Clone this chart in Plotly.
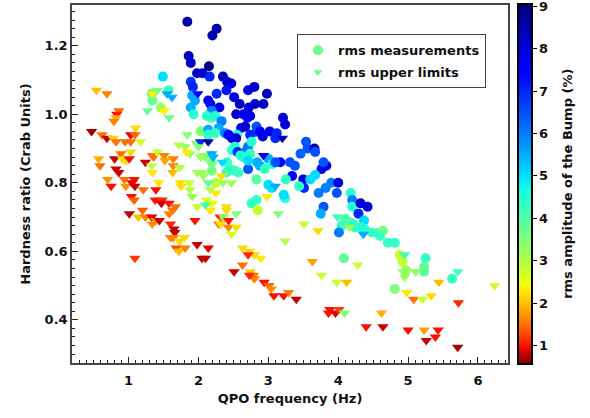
import numpy as np
import plotly.graph_objects as go

# ---------------- data ----------------
# rms measurements: QPO frequency (Hz), hardness ratio (Crab), rms amplitude of the bump (%)
rms_freq = [1.33, 1.34, 1.46, 1.84, 2.26, 2.20, 1.86, 1.89, 2.15, 1.98, 2.06, 2.16, 1.49, 2.35, 2.41, 2.47,
            1.89, 1.92, 1.57, 2.26, 2.40, 2.71, 2.80, 2.98, 1.91, 1.95, 2.14, 2.17, 2.51, 2.59, 2.72, 2.81,
            2.93, 1.89, 2.30, 1.93, 2.19, 2.54, 2.64, 2.74, 2.70, 3.21, 3.24, 2.12, 2.19, 2.24, 2.33, 2.67,
            2.61, 2.83, 2.83, 3.02, 2.03, 2.14, 2.29, 2.38, 2.55, 2.14, 2.24, 2.43, 2.48, 2.54, 2.74, 2.88,
            2.92, 3.12, 3.10, 2.52, 2.48, 2.56, 2.71, 2.69, 2.76, 2.60, 2.64, 2.74, 2.84, 2.88, 2.71, 2.83,
            2.45, 2.52, 2.57, 2.40, 2.19, 2.19, 2.19, 2.25, 3.54, 3.56, 3.66, 3.67, 3.46, 3.00, 3.06, 3.17,
            3.10, 3.31, 3.38, 3.83, 3.76, 3.79, 2.95, 3.34, 3.25, 3.50, 3.60, 3.67, 3.51, 3.44, 3.72, 3.82,
            3.90, 4.00, 3.98, 3.00, 3.05, 3.24, 3.22, 4.18, 4.20, 4.20, 4.32, 4.42, 3.79, 3.75, 4.29, 4.10,
            4.17, 4.21, 4.24, 4.05, 4.37, 4.33, 4.38, 4.01, 4.48, 4.56, 4.64, 4.60, 4.71, 4.81, 4.88, 4.92,
            5.25, 4.97, 5.23, 5.23, 5.63, 4.81, 4.08, 2.76, 2.83, 2.85, 2.41, 2.71]
rms_hr = [1.06, 1.04, 1.02, 1.27, 1.25, 1.23, 1.17, 1.15, 1.14, 1.12, 1.12, 1.11, 1.11, 1.11, 1.095, 1.09,
          1.095, 1.08, 1.07, 1.06, 1.07, 1.07, 1.08, 1.06, 1.055, 1.04, 1.04, 1.03, 1.05, 1.03, 1.02, 1.03,
          1.03, 1.02, 1.02, 1.00, 1.01, 1.00, 1.00, 0.995, 0.99, 0.99, 0.97, 0.995, 0.99, 0.995, 0.98, 0.964,
          0.96, 0.964, 0.949, 0.95, 0.95, 0.955, 0.96, 0.945, 0.94, 0.94, 0.945, 0.94, 0.93, 0.93, 0.94, 0.95,
          0.935, 0.945, 0.93, 0.905, 0.895, 0.89, 0.905, 0.895, 0.92, 0.88, 0.875, 0.885, 0.86, 0.85, 0.84, 0.81,
          0.84, 0.835, 0.83, 0.83, 0.88, 0.86, 0.835, 0.80, 0.92, 0.90, 0.90, 0.89, 0.885, 0.87, 0.855, 0.86,
          0.86, 0.86, 0.85, 0.85, 0.84, 0.86, 0.84, 0.82, 0.81, 0.81, 0.81, 0.823, 0.785, 0.79, 0.77, 0.785,
          0.80, 0.80, 0.77, 0.794, 0.785, 0.755, 0.765, 0.77, 0.75, 0.73, 0.74, 0.73, 0.73, 0.71, 0.71, 0.695,
          0.685, 0.68, 0.67, 0.675, 0.69, 0.67, 0.665, 0.655, 0.655, 0.653, 0.66, 0.645, 0.625, 0.625, 0.59, 0.57,
          0.58, 0.545, 0.555, 0.54, 0.52, 0.49, 0.58, 0.74, 0.75, 0.72, 0.86, 0.865]
rms_amp = [3.8, 3.8, 3.2, 8.6, 8.5, 8.5, 8.3, 8.2, 9.0, 8.2, 8.2, 7.0, 5.0, 8.3, 8.2, 8.0,
           6.8, 7.0, 4.3, 7.0, 7.2, 8.0, 8.2, 8.3, 5.5, 5.5, 8.0, 7.5, 8.0, 8.2, 8.0, 8.2,
           8.3, 5.5, 8.0, 4.5, 6.0, 8.3, 7.5, 8.0, 7.5, 8.0, 8.0, 4.5, 4.3, 4.5, 6.0, 8.2,
           8.0, 6.5, 6.5, 7.8, 3.5, 5.5, 5.5, 6.0, 4.5, 4.3, 4.3, 7.5, 7.5, 8.0, 7.0, 7.5,
           8.0, 7.0, 7.0, 4.5, 4.5, 7.0, 6.0, 6.0, 4.5, 4.5, 4.5, 4.3, 5.5, 5.5, 6.5, 4.0,
           4.3, 4.3, 4.3, 4.3, 3.5, 3.6, 3.6, 2.9, 6.5, 6.5, 8.5, 6.5, 6.3, 5.5, 4.5, 7.5,
           6.5, 6.5, 6.5, 8.0, 8.0, 6.5, 4.3, 7.5, 4.3, 8.0, 5.0, 5.0, 7.0, 4.3, 6.0, 6.0,
           6.0, 8.0, 6.5, 5.0, 5.0, 4.5, 5.0, 4.5, 6.0, 4.5, 8.0, 8.0, 6.5, 5.5, 7.0, 4.0,
           4.0, 4.3, 4.3, 4.3, 5.0, 4.5, 4.5, 6.0, 4.3, 4.3, 3.6, 4.3, 4.3, 4.3, 2.8, 2.8,
           4.3, 3.2, 3.8, 3.8, 4.3, 3.5, 3.8, 4.3, 4.3, 2.8, 4.3, 5.0]

# rms upper limits
ul_freq = [1.84, 0.54, 0.69, 0.86, 0.83, 0.82, 0.79, 0.47, 1.10, 0.62, 0.69, 0.78, 0.82, 1.03, 1.09, 0.95,
           1.03, 1.17, 0.89, 1.03, 0.57, 0.80, 0.91, 0.96, 1.01, 0.59, 1.24, 1.34, 1.36, 1.41, 1.51, 1.52,
           1.33, 1.34, 1.64, 1.63, 1.64, 1.72, 1.73, 0.82, 0.86, 0.70, 0.94, 1.08, 1.43, 0.75, 0.96, 1.05,
           1.09, 1.21, 1.39, 1.04, 1.08, 1.38, 1.48, 1.47, 1.58, 1.67, 1.63, 1.20, 1.01, 1.14, 1.24, 1.33,
           1.34, 1.39, 1.44, 1.58, 1.60, 1.65, 1.66, 1.60, 1.64, 1.73, 1.80, 1.68, 1.72, 1.81, 1.09, 1.74,
           1.75, 1.87, 1.88, 2.14, 2.35, 2.47, 2.17, 2.25, 1.91, 1.98, 2.11, 2.17, 2.20, 2.10, 2.17, 2.40,
           2.40, 2.54, 2.98, 2.31, 2.35, 2.29, 2.36, 2.43, 2.32, 2.43, 2.54, 2.47, 1.95, 1.98, 2.14, 2.05,
           2.10, 2.63, 2.73, 2.80, 2.71, 2.89, 2.63, 2.51, 2.74, 2.79, 2.80, 2.73, 2.94, 3.01, 3.04, 3.08,
           3.22, 3.29, 3.40, 3.24, 3.63, 4.28, 3.76, 3.98, 4.12, 3.88, 3.86, 3.96, 4.01, 4.09, 4.62, 4.40,
           4.64, 4.95, 4.93, 4.95, 5.11, 5.71, 5.44, 6.24, 4.98, 5.08, 5.21, 5.33, 5.72, 5.00, 5.23, 5.43,
           5.26, 5.39, 5.71, 3.14, 3.51, 3.71, 3.99, 4.16, 4.36, 3.10, 3.20, 2.93, 1.55, 1.62, 1.99, 1.41,
           1.34, 1.51, 1.27, 1.58, 1.97, 2.03, 2.14, 2.00, 1.81, 1.88, 2.07, 2.10, 2.03, 1.83, 2.19, 2.21,
           2.34, 2.33, 1.98, 2.05, 2.07]
ul_hr = [0.94, 1.07, 1.06, 1.01, 1.00, 0.99, 0.98, 0.95, 0.96, 0.94, 0.93, 0.93, 0.92, 0.94, 0.94, 0.92,
         0.92, 0.92, 0.885, 0.89, 0.87, 0.87, 0.87, 0.865, 0.87, 0.85, 0.86, 0.88, 0.875, 0.89, 0.88, 0.865,
         0.85, 0.83, 0.85, 0.83, 0.87, 0.91, 0.845, 0.84, 0.83, 0.81, 0.81, 0.81, 0.80, 0.79, 0.79, 0.80,
         0.79, 0.78, 0.78, 0.76, 0.75, 0.75, 0.75, 0.74, 0.74, 0.73, 0.72, 0.72, 0.71, 0.70, 0.70, 0.70,
         0.68, 0.69, 0.69, 0.71, 0.68, 0.665, 0.655, 0.64, 0.64, 0.63, 0.64, 0.61, 0.60, 0.61, 0.58, 0.80,
         0.79, 0.80, 0.78, 0.80, 0.80, 0.80, 0.78, 0.77, 0.76, 0.73, 0.75, 0.74, 0.74, 0.735, 0.72, 0.73,
         0.72, 0.71, 0.76, 0.70, 0.69, 0.68, 0.70, 0.69, 0.68, 0.67, 0.67, 0.65, 0.69, 0.62, 0.61, 0.58,
         0.58, 0.61, 0.60, 0.59, 0.59, 0.58, 0.56, 0.54, 0.54, 0.53, 0.52, 0.53, 0.51, 0.50, 0.49, 0.47,
         0.47, 0.48, 0.46, 0.63, 0.57, 0.56, 0.53, 0.51, 0.51, 0.43, 0.42, 0.42, 0.43, 0.42, 0.42, 0.38,
         0.38, 0.59, 0.54, 0.525, 0.54, 0.54, 0.51, 0.50, 0.48, 0.46, 0.46, 0.47, 0.45, 0.37, 0.37, 0.37,
         0.34, 0.35, 0.32, 0.71, 0.68, 0.66, 0.70, 0.67, 0.65, 0.79, 0.93, 0.88, 1.06, 1.05, 1.06, 1.07,
         1.06, 1.01, 1.01, 0.99, 0.915, 0.92, 0.92, 0.905, 0.905, 0.885, 0.88, 0.875, 0.875, 0.89, 0.885, 0.875,
         0.86, 0.82, 0.83, 0.83, 0.82]
ul_amp = [3.5, 2.0, 1.6, 1.5, 1.0, 1.9, 1.6, 0.7, 2.2, 1.5, 0.8, 2.1, 1.5, 0.9, 1.4, 1.5,
          1.5, 2.7, 1.5, 2.2, 1.9, 0.8, 2.2, 2.2, 1.0, 1.5, 0.8, 1.5, 1.5, 2.8, 1.6, 1.8,
          3.0, 2.3, 1.6, 2.0, 1.6, 3.0, 3.0, 0.8, 0.8, 1.7, 1.5, 1.0, 2.3, 1.0, 1.7, 0.9,
          0.8, 1.5, 1.0, 1.0, 1.4, 1.0, 1.1, 0.8, 1.0, 1.5, 1.5, 1.4, 0.75, 2.0, 1.6, 0.9,
          1.7, 1.7, 0.8, 1.6, 1.1, 0.8, 0.8, 1.6, 1.6, 2.2, 2.2, 1.3, 2.0, 1.6, 1.2, 2.2,
          2.2, 2.8, 3.0, 3.8, 3.2, 3.2, 3.0, 2.3, 3.2, 2.8, 2.6, 2.6, 2.5, 4.3, 2.3, 2.2,
          2.2, 3.5, 2.3, 1.1, 1.6, 1.6, 3.5, 1.0, 2.2, 1.6, 2.2, 2.7, 1.0, 0.8, 0.9, 0.8,
          0.8, 2.2, 2.2, 2.2, 1.1, 2.3, 1.5, 0.8, 2.1, 1.6, 1.6, 1.1, 1.0, 1.5, 1.7, 1.0,
          1.0, 1.6, 0.8, 3.0, 1.8, 2.8, 2.8, 2.8, 2.0, 1.0, 1.0, 0.9, 1.2, 3.5, 1.9, 1.0,
          0.8, 4.2, 3.3, 3.3, 3.4, 4.2, 2.0, 2.8, 2.3, 1.5, 2.8, 2.2, 1.1, 1.0, 1.8, 1.0,
          0.8, 1.0, 0.7, 3.5, 2.8, 2.2, 4.2, 3.2, 5.5, 5.5, 8.5, 8.0, 5.5, 5.5, 7.5, 3.7,
          2.4, 2.4, 3.8, 3.8, 3.5, 7.0, 8.5, 3.5, 3.2, 3.2, 3.5, 3.5, 3.2, 2.3, 5.5, 5.5,
          5.0, 2.2, 3.2, 3.2, 3.2]

legend_amp = 3.7          # colour value of the legend symbols
colorbar_ticks = [1, 2, 3, 4, 5, 6, 7, 8, 9]
x_ticks = [1, 2, 3, 4, 5, 6]
y_ticks = [0.4, 0.6, 0.8, 1.0, 1.2]

# ---------------- colour scale (jet, reversed, square-root stretched) ----------------
CMIN, CMAX = 0.57, 9.05


def jet_rgb(t):
    r = np.interp(t, [0, 0.35, 0.66, 0.89, 1], [0, 0, 1, 1, 0.5])
    g = np.interp(t, [0, 0.125, 0.375, 0.64, 0.91, 1], [0, 0, 1, 1, 0, 0])
    b = np.interp(t, [0, 0.11, 0.34, 0.65, 1], [0.5, 1, 1, 0, 0])
    return "rgb(%d,%d,%d)" % (round(r * 255), round(g * 255), round(b * 255))


def value_to_t(c):
    s = (np.sqrt(c) - np.sqrt(CMIN)) / (np.sqrt(CMAX) - np.sqrt(CMIN))
    return 1 - s


colorscale = []
for p in np.linspace(0, 1, 81):
    c = CMIN + p * (CMAX - CMIN)
    colorscale.append([float(p), jet_rgb(value_to_t(c))])

legend_color = jet_rgb(value_to_t(legend_amp))

FONT = "DejaVu Sans"
TXT = "#111111"
BOLD13 = dict(family=FONT, size=13, color=TXT, weight="bold")

fig = go.Figure()
fig.add_trace(go.Scatter(
    x=rms_freq, y=rms_hr, mode="markers", name="rms measurements", showlegend=False,
    marker=dict(symbol="circle", size=10, color=rms_amp, coloraxis="coloraxis", line=dict(width=0)),
))
fig.add_trace(go.Scatter(
    x=ul_freq, y=ul_hr, mode="markers", name="rms upper limits", showlegend=False,
    marker=dict(symbol="triangle-down", size=10, color=ul_amp, coloraxis="coloraxis", line=dict(width=0)),
))
# legend entries (symbol keys only)
fig.add_trace(go.Scatter(
    x=[None], y=[None], mode="markers", name="rms measurements", legendgroup="a",
    marker=dict(symbol="circle", size=10, color=legend_color, line=dict(width=0)),
))
fig.add_trace(go.Scatter(
    x=[None], y=[None], mode="markers", name="rms upper limits", legendgroup="b",
    marker=dict(symbol="triangle-down", size=8, color=legend_color, line=dict(width=0)),
))

axis_common = dict(
    showline=True, linecolor="#444444", linewidth=1.5, mirror=True,
    ticks="inside", ticklen=6, tickwidth=1.2, tickcolor="#222222",
    showgrid=False, zeroline=False, automargin=False,
    tickfont=BOLD13,
)

fig.update_layout(
    width=590, height=418,
    margin=dict(l=72, r=82, t=5, b=55, autoexpand=False),
    paper_bgcolor="white", plot_bgcolor="white",
    font=BOLD13,
    showlegend=True,
    legend=dict(
        x=0.516, y=0.918, xanchor="left", yanchor="top",
        bgcolor="white", bordercolor="#444444", borderwidth=1,
        font=BOLD13, traceorder="grouped", tracegroupgap=2,
    ),
    coloraxis=dict(
        colorscale=colorscale, cmin=CMIN, cmax=CMAX,
        colorbar=dict(
            x=1.023, xanchor="left", y=0.5, yanchor="middle",
            len=1.006, lenmode="fraction", thickness=14,
            xpad=0, ypad=0,
            outlinewidth=2, outlinecolor="black",
            ticks="outside", ticklen=4, tickwidth=1.2, tickcolor="black",
            tickvals=colorbar_ticks, ticklabeloverflow="allow",
            tickfont=BOLD13,
        ),
    ),
    annotations=[dict(
        text="rms amplitude of the Bump (%)", textangle=-90,
        xref="paper", yref="paper", x=1.135, y=0.5,
        xanchor="center", yanchor="middle", showarrow=False, font=BOLD13,
    )],
    xaxis=dict(
        range=[0.19, 6.43], tickvals=x_ticks, ticklabelstandoff=5,
        minor=dict(ticks="inside", ticklen=3, dtick=0.1, tick0=0, tickcolor="#222222"),
        title=dict(text="QPO frequency (Hz)", standoff=7, font=BOLD13),
        **axis_common,
    ),
    yaxis=dict(
        range=[0.274, 1.319], tickvals=y_ticks, tickformat=".1f",
        minor=dict(ticks="inside", ticklen=3, dtick=0.025, tick0=0, tickcolor="#222222"),
        title=dict(text="Hardness ratio (Crab Units)", standoff=11, font=BOLD13),
        **axis_common,
    ),
)

fig.write_html("out.html", config={"displayModeBar": False})

# remove the browser's default page margin so the figure sits at the window origin
with open("out.html", "r", encoding="utf-8") as fh:
    html = fh.read()
html = html.replace("<head>", "<head><style>html,body{margin:0;padding:0;}</style>", 1)
with open("out.html", "w", encoding="utf-8") as fh:
    fh.write(html)
